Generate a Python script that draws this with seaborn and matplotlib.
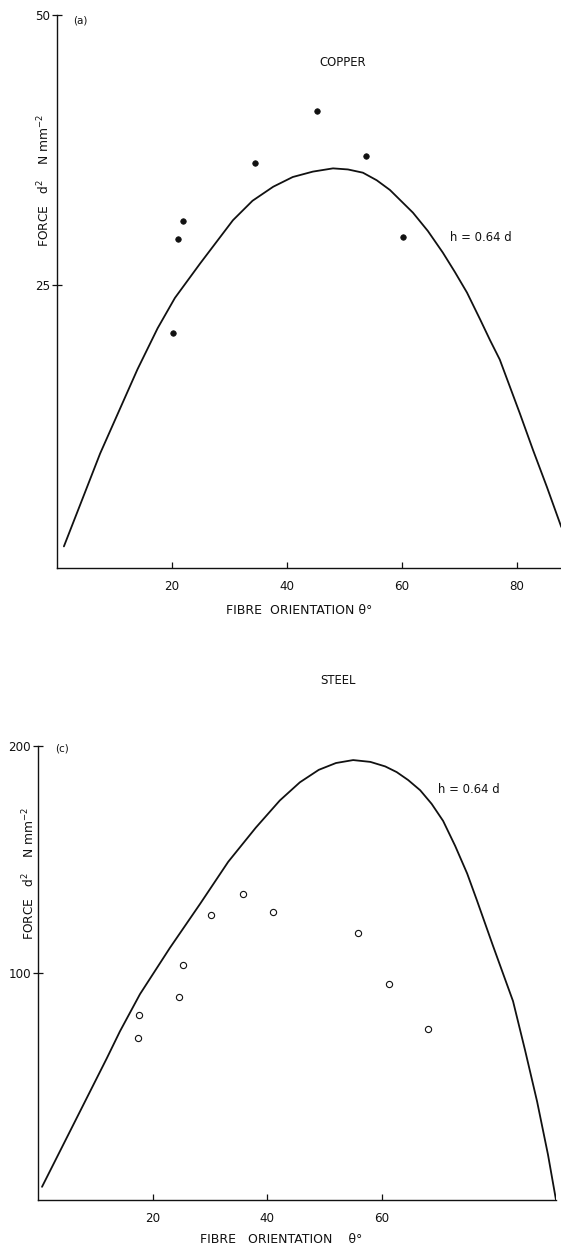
import matplotlib
matplotlib.use("Agg")
import matplotlib.pyplot as plt
import seaborn as sns
import pandas as pd

# ---- Copper (a): measured points and h = 0.64 d prediction ----
cu_theta = [20.2, 21.0, 21.9, 34.4, 45.2, 53.7, 60.2]
cu_force = [20.6, 29.3, 30.9, 36.3, 41.1, 36.9, 29.4]

cu_curve_theta = [1.2, 4.5, 7.5, 11.0, 14.0, 17.5, 20.5, 24.9, 30.6, 34.0,
                  37.6, 41.0, 44.5, 48.0, 50.6, 53.2, 55.6, 57.9, 61.9, 64.5,
                  67.1, 69.2, 71.3, 73.6, 75.3, 77.0, 80.5, 82.8, 85.2, 87.7]
cu_curve_force = [0.8, 5.3, 9.4, 13.6, 17.2, 21.0, 23.8, 27.0, 31.0, 32.8,
                  34.1, 35.0, 35.5, 35.8, 35.7, 35.4, 34.7, 33.8, 31.7, 30.0,
                  28.0, 26.2, 24.3, 21.8, 19.9, 18.1, 13.1, 9.7, 6.3, 2.6]

# ---- Steel (c): measured points and h = 0.64 d prediction ----
st_theta = [17.5, 17.6, 24.6, 25.3, 30.2, 35.8, 41.0, 55.8, 61.3, 68.1]
st_force = [71.2, 81.4, 89.4, 103.5, 125.7, 135.0, 127.0, 117.7, 95.1, 75.2]

st_curve_theta = [0.7, 12.0, 14.3, 17.8, 23.0, 28.3, 33.2, 38.0, 42.2, 45.7,
                  49.0, 52.0, 55.0, 58.0, 60.6, 62.6, 64.6, 66.7, 68.7, 70.7,
                  72.8, 74.9, 76.6, 79.4, 82.9, 85.0, 87.1, 89.0, 90.4]
st_curve_force = [5.8, 62.4, 74.3, 90.7, 111.0, 130.5, 149.0, 164.0, 176.0, 184.0,
                  189.5, 192.5, 193.8, 193.0, 191.0, 188.5, 185.0, 180.5, 174.5, 167.0,
                  156.0, 143.8, 132.0, 112.0, 87.6, 66.0, 43.4, 20.0, 0.0]

cu_xticks = [20, 40, 60, 80]
cu_yticks = [25, 50]
st_xticks = [20, 40, 60]
st_yticks = [100, 200]

sns.set_theme(style="ticks")
plt.rcParams["font.family"] = ["DejaVu Sans"]
plt.rcParams["mathtext.fontset"] = "dejavusans"

INK = "#111111"
FS = 8.6
LFS = 8.4

fig = plt.figure(figsize=(5.61, 12.49), dpi=100)
ax1 = fig.add_axes([57 / 561, 1 - 568 / 1249, 504 / 561, 553 / 1249])
ax2 = fig.add_axes([38 / 561, 1 - 1200 / 1249, 518 / 561, 454 / 1249])


def style_axes(ax, xticks, yticks, xlim, ylim):
    ax.set_xlim(*xlim)
    ax.set_ylim(*ylim)
    ax.set_xticks(xticks)
    ax.set_yticks(yticks)
    ax.set_xticklabels([str(t) for t in xticks])
    ax.set_yticklabels([str(t) for t in yticks])
    for side in ("top", "right"):
        ax.spines[side].set_visible(False)
    for side in ("left", "bottom"):
        ax.spines[side].set_linewidth(1.0)
        ax.spines[side].set_color(INK)
    ax.tick_params(axis="x", direction="in", length=4, width=0.9, pad=9,
                   labelsize=FS, colors=INK)
    ax.tick_params(axis="y", direction="inout", length=7, width=0.9, pad=1.5,
                   labelsize=FS, colors=INK)
    ax.set_xlabel("")
    ax.set_ylabel("")
    ax.set_facecolor("white")


# Copper panel
cu_pts = pd.DataFrame({"theta": cu_theta, "force": cu_force})
cu_line = pd.DataFrame({"theta": cu_curve_theta, "force": cu_curve_force})
sns.lineplot(data=cu_line, x="theta", y="force", ax=ax1, color=INK,
             linewidth=1.3, estimator=None, sort=False)
sns.scatterplot(data=cu_pts, x="theta", y="force", ax=ax1, color=INK,
                s=16, marker="o", edgecolor=INK, linewidth=0.5, zorder=3)
style_axes(ax1, cu_xticks, cu_yticks, (0, 87.65), (-1.2, 50))

ax1.text(2.8, 49.5, "(a)", fontsize=7.5, ha="left", va="center", color=INK)
ax1.text(49.6, 45.6, "COPPER", fontsize=LFS, ha="center", va="center", color=INK)
ax1.text(68.3, 29.4, "h = 0.64 d", fontsize=LFS, ha="left", va="center", color=INK)
ax1.text(-0.026, 0.70, "FORCE   d$^2$    N mm$^{-2}$", transform=ax1.transAxes,
         rotation=90, fontsize=LFS + 0.4, ha="center", va="center", color=INK)
ax1.text(0.48, -0.077, "FIBRE  ORIENTATION \u03b8\u00b0", transform=ax1.transAxes,
         fontsize=LFS + 0.6, ha="center", va="center", color=INK)

# Steel panel
st_pts = pd.DataFrame({"theta": st_theta, "force": st_force})
st_line = pd.DataFrame({"theta": st_curve_theta, "force": st_curve_force})
sns.lineplot(data=st_line, x="theta", y="force", ax=ax2, color=INK,
             linewidth=1.3, estimator=None, sort=False)
sns.scatterplot(data=st_pts, x="theta", y="force", ax=ax2, s=20, marker="o",
                facecolor="white", edgecolor=INK, linewidth=0.8, zorder=3)
style_axes(ax2, st_xticks, st_yticks, (0, 90.4), (0, 200))

ax2.text(2.97, 199, "(c)", fontsize=7.5, ha="left", va="center", color=INK)
ax2.text(52.4, 228.8, "STEEL", fontsize=LFS, ha="center", va="center",
         color=INK, clip_on=False)
ax2.text(69.8, 181, "h = 0.64 d", fontsize=LFS, ha="left", va="center", color=INK)
ax2.text(-0.017, 0.72, "FORCE   d$^2$    N mm$^{-2}$", transform=ax2.transAxes,
         rotation=90, fontsize=LFS + 0.4, ha="center", va="center", color=INK)
ax2.text(0.47, -0.088, "FIBRE   ORIENTATION    \u03b8\u00b0", transform=ax2.transAxes,
         fontsize=LFS + 0.6, ha="center", va="center", color=INK)

fig.savefig("out.png", dpi=100, facecolor="white")
